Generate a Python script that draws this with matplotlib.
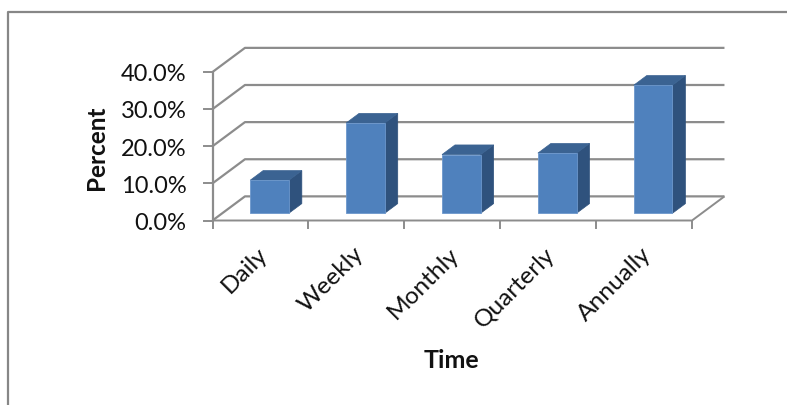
import matplotlib
matplotlib.use("Agg")
import matplotlib.pyplot as plt
from matplotlib.lines import Line2D
from matplotlib.patches import Polygon

categories = ["Daily", "Weekly", "Monthly", "Quarterly", "Annually"]
percent = [8.9, 24.3, 15.8, 16.2, 34.5]
y_ticks = [0, 10, 20, 30, 40]
y_tick_labels = ["0.0%", "10.0%", "20.0%", "30.0%", "40.0%"]

W, H = 787, 406
FRONT = "#4f81bd"
TOP = "#3b6392"
SIDE = "#2f527d"
AXIS_GREY = "#8c8c8c"

plt.rcParams["font.family"] = ["Lato", "DejaVu Sans"]

fig = plt.figure(figsize=(W / 100, H / 100), dpi=100)
# plot area in pixels: left 212.5, right 692, y=0 at 221.5, y=40 at 73
ax = fig.add_axes([212.5 / W, 1 - 221.5 / H, (692 - 212.5) / W, (221.5 - 73) / H])
ax.set_xlim(0, len(categories))
ax.set_ylim(0, 40)
ax.axis("off")

# how far the back wall is pushed, in data units
depth_x = 32.5 / 96
depth_y = 6.5


def proj(x, y, d):
    # oblique projection, d=0 front plane, d=1 back wall
    return x + d * depth_x, y + d * depth_y


def line(xs, ys, lw=1.6):
    ax.add_line(Line2D(xs, ys, color=AXIS_GREY, lw=lw, clip_on=False,
                       solid_capstyle="butt", zorder=1))


# gridlines on the back wall and the side wall
n = len(categories)
for t in y_ticks:
    bx, by = proj(0, t, 1)
    ex, ey = proj(n, t, 1)
    line([0, bx, ex], [t, by, ey])

# floor and axes
line([0, 0], [0, 40])
line([0, n, proj(n, 0, 1)[0]], [0, 0, proj(n, 0, 1)[1]], lw=1.4)

# tick marks
for i in range(n + 1):
    ax.plot([i, i], [0, -2.1], color=AXIS_GREY, lw=1.4, clip_on=False, zorder=1)
for t, label in zip(y_ticks, y_tick_labels):
    ax.plot([0, -0.085], [t, t], color=AXIS_GREY, lw=1.4, clip_on=False, zorder=1)
    ax.text(-0.27, t - 0.5, label, ha="right", va="center",
            fontsize=17, color="#111111", clip_on=False)

# the 3d bars, one depth band in from the front plane
bar_w = 0.403
d0, d1 = 0.3, 0.7
for i, v in enumerate(percent):
    x0 = i + 0.493 - bar_w / 2 + d0 * depth_x
    x1 = x0 + bar_w
    base = d0 * depth_y
    top = base + v
    dx = (d1 - d0) * depth_x
    dy = (d1 - d0) * depth_y
    ax.add_patch(Polygon([(x1, base), (x1 + dx, base + dy), (x1 + dx, top + dy), (x1, top)],
                         fc=SIDE, ec=SIDE, lw=0.5, clip_on=False, zorder=3))
    ax.add_patch(Polygon([(x0, top), (x1, top), (x1 + dx, top + dy), (x0 + dx, top + dy)],
                         fc=TOP, ec=TOP, lw=0.5, clip_on=False, zorder=3))
    ax.bar(x0 + bar_w / 2, v, width=bar_w, bottom=base, color=FRONT,
           edgecolor="#6c97cc", linewidth=0.6, clip_on=False, zorder=4)

# category labels sit rotated below the ticks
for i, name in enumerate(categories):
    ax.annotate(name, xy=(i + 0.5, 0), xytext=(-4, -22), textcoords="offset pixels",
                rotation=45, rotation_mode="anchor", ha="right", va="top",
                fontsize=17.6, color="#111111", annotation_clip=False)

fig.text(96 / W, 1 - 147.5 / H, "Percent", rotation=90, ha="center", va="center",
         fontsize=17.5, fontweight="bold", color="#111111")
fig.text(451.5 / W, 1 - 360.5 / H, "Time", ha="center", va="center",
         fontsize=18, fontweight="bold", color="#111111")

# chart frame only shows on its top and left edge
fig.add_artist(Line2D([7.5 / W, 7.5 / W, 1], [0, 1 - 12.5 / H, 1 - 12.5 / H],
                      color="#878787", lw=1.6, transform=fig.transFigure))

fig.savefig("out.png", dpi=100)
